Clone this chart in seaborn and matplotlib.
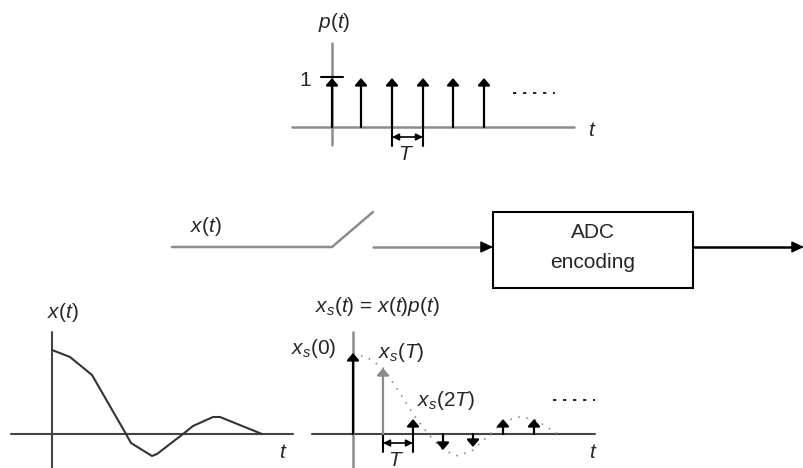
import numpy as np
import pandas as pd
import matplotlib.pyplot as plt
import seaborn as sns

# impulse train p(t): positions along the top baseline
p_pos = [332, 361, 392, 423, 453, 484]
p_top = 78
p_base = 127

# continuous signal x(t) (bottom left)
xt_x = [52, 70, 92, 126, 131, 152, 157, 183, 193, 213, 220, 262]
xt_y = [350, 357, 375, 434, 443, 456, 454, 434, 426, 417, 417, 434]

# sampled signal xs(t) (bottom right)
xs_pos = [353, 383, 413, 443, 473, 503, 534]
xs_tip = [353, 368, 419, 450, 447, 419, 419]
xs_color = ['black', '#8c8c8c', 'black', 'black', 'black', 'black', 'black']
xs_env_x = [353, 368, 383, 398, 413, 428, 443, 458, 473, 488, 503, 518, 534, 558]
xs_env_y = [353, 358, 368, 390, 414, 434, 450, 456, 450, 436, 422, 417, 419, 434]
xs_base = 434

sns.set_theme(style="white")
plt.rcParams['font.family'] = ['Liberation Sans', 'DejaVu Sans']
plt.rcParams['mathtext.fontset'] = 'custom'
plt.rcParams['mathtext.rm'] = 'Liberation Sans'
plt.rcParams['mathtext.it'] = 'Liberation Sans:italic'

fig = plt.figure(figsize=(8.04, 4.68), dpi=100)
ax = fig.add_axes([0, 0, 1, 1])
ax.set_xlim(0, 804)
ax.set_ylim(468, 0)
ax.axis('off')

gray = '#8c8c8c'
fs = 15


def impulse(x, base, tip, color='black', lw=1.6):
    ax.annotate('', xy=(x, tip), xytext=(x, base),
                arrowprops=dict(arrowstyle='-|>,head_length=0.35,head_width=0.3',
                                color=color, lw=lw, shrinkA=0, shrinkB=0,
                                mutation_scale=12))


def flow_arrow(x0, x1, y, line_color):
    ax.plot([x0, x1 - 6], [y, y], color=line_color, lw=1.8)
    ax.annotate('', xy=(x1, y), xytext=(x1 - 11, y),
                arrowprops=dict(arrowstyle='-|>,head_length=0.75,head_width=0.35',
                                color='black', lw=1.0, shrinkA=0, shrinkB=0,
                                mutation_scale=10))


def period_marker(x0, x1, base, bottom, ya, label_y):
    ax.plot([x0, x0], [base, bottom], color='black', lw=1.5)
    ax.plot([x1, x1], [base, bottom], color='black', lw=1.5)
    ax.annotate('', xy=(x1, ya), xytext=(x0, ya),
                arrowprops=dict(arrowstyle='<|-|>,head_length=0.4,head_width=0.2',
                                color='black', lw=1.2, shrinkA=0, shrinkB=0,
                                mutation_scale=10))
    ax.text((x0 + x1) / 2 - 2, label_y, '$T$', fontsize=fs, ha='center', va='center')


# ---- top: p(t)
ax.plot([292, 574], [p_base, p_base], color=gray, lw=1.8)
ax.plot([332, 332], [43, 145], color=gray, lw=1.8)
for x in p_pos:
    impulse(x, p_base, p_top)
ax.plot([321, 343], [77, 77], color='black', lw=1.5)
ax.text(305, 80, '1', fontsize=fs, ha='center', va='center')
ax.text(334, 22, '$p(t)$', fontsize=fs, ha='center', va='center')
ax.text(592, 131, '$t$', fontsize=fs, ha='center', va='center')
ax.plot([513, 555], [93, 93], color='black', lw=1.2, ls=(0, (2, 4)))
period_marker(392, 423, p_base, 146, 137, 154)

# ---- middle: switch and ADC block
ax.plot([172, 332, 373], [247, 247, 212], color=gray, lw=1.8)
ax.text(190, 226, '$x(t)$', fontsize=fs, ha='left', va='center')
flow_arrow(373, 493, 247, gray)
ax.add_patch(plt.Rectangle((493, 212), 200, 76, fill=False, ec='black', lw=1.5))
ax.text(593, 232, 'ADC', fontsize=fs, ha='center', va='center')
ax.text(593, 262, 'encoding', fontsize=fs, ha='center', va='center')
flow_arrow(693, 804, 247, 'black')

# ---- bottom left: x(t)
ax.plot([11, 293], [434, 434], color='#444444', lw=1.5)
ax.plot([52, 52], [332, 468], color='#444444', lw=1.5)
sns.lineplot(x=xt_x, y=xt_y, ax=ax, color='#333333', lw=1.5, sort=False,
             estimator=None)
ax.text(47, 312, '$x(t)$', fontsize=fs, ha='left', va='center')
ax.text(283, 453, '$t$', fontsize=fs, ha='center', va='center')

# ---- bottom right: xs(t)
ax.plot([312, 595], [xs_base, xs_base], color='#444444', lw=1.5)
ax.plot([353, 353], [332, 468], color=gray, lw=1.8)
sns.lineplot(x=xs_env_x, y=xs_env_y, ax=ax, color=gray, lw=1.2, ls=(0, (1, 4)),
             sort=False, estimator=None)
for x, tip, c in zip(xs_pos, xs_tip, xs_color):
    impulse(x, xs_base, tip, color=c)
ax.text(315, 307, '$x_s(t)$ = $x(t)p(t)$', fontsize=fs, ha='left', va='center')
ax.text(291, 348, '$x_s(0)$', fontsize=fs, ha='left', va='center')
ax.text(378, 353, '$x_s(T)$', fontsize=fs, ha='left', va='center')
ax.text(417, 400, '$x_s(2T)$', fontsize=fs, ha='left', va='center')
ax.plot([553, 595], [400, 400], color='black', lw=1.2, ls=(0, (2, 4)))
ax.text(593, 453, '$t$', fontsize=fs, ha='center', va='center')
period_marker(383, 413, xs_base, 452, 443, 460)

fig.savefig('out.png', dpi=100)
